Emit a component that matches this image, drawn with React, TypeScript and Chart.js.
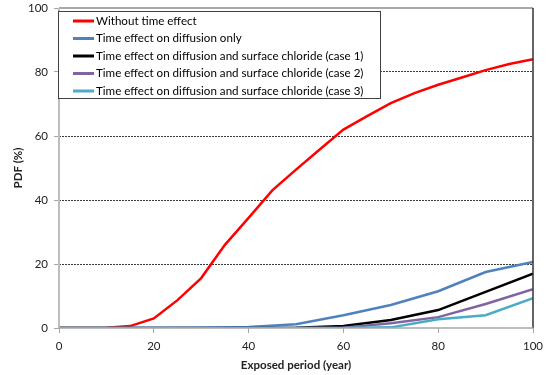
import React, { useEffect, useRef } from "react";
import { Chart, registerables } from "chart.js";

Chart.register(...registerables);

const seriesNames = [
  "Without time effect",
  "Time effect on diffusion only",
  "Time effect on diffusion and surface chloride (case 1)",
  "Time effect on diffusion and surface chloride (case 2)",
  "Time effect on diffusion and surface chloride (case 3)",
];
const seriesColors = ["#ff0000", "#4f81bd", "#000000", "#8064a2", "#4bacc6"];

const yearsFine = [0, 5, 10, 15, 20, 25, 30, 35, 40, 45, 50, 55, 60, 65, 70, 75, 80, 85, 90, 95, 100];
const yearsCoarse = [0, 10, 20, 30, 40, 50, 60, 70, 80, 90, 100];

const withoutTime = [0, 0, 0.1, 0.6, 3, 8.7, 15.6, 26, 34.4, 43, 49.5, 55.8, 62, 66.2, 70.3, 73.4, 76, 78.3, 80.6, 82.5, 84];
const diffusionOnly = [0, 0, 0, 0.05, 0.3, 1.2, 4, 7.2, 11.5, 17.5, 20.6];
const case1 = [0, 0, 0, 0, 0, 0.1, 0.6, 2.5, 5.6, 11.3, 17];
const case2 = [0, 0, 0, 0, 0, 0, 0.1, 1.5, 3.4, 7.5, 12.1];
const case3 = [0, 0, 0, 0, 0, 0, 0, 0.2, 2.7, 4, 9.3];

const yTicks = [0, 20, 40, 60, 80, 100];
const xTicks = [0, 20, 40, 60, 80, 100];

const FONT = "Lato, 'Liberation Sans', sans-serif";

const toPts = (xs: number[], ys: number[]) => xs.map((x, i) => ({ x, y: ys[i] }));

const framePlugin = {
  id: "frame",
  afterDatasetsDraw(chart: any) {
    const { ctx, chartArea: a } = chart;
    ctx.save();
    ctx.strokeStyle = "#8c8c8c";
    ctx.lineWidth = 1.5;
    ctx.beginPath();
    ctx.moveTo(a.left, a.top);
    ctx.lineTo(a.right, a.top);
    ctx.stroke();
    ctx.strokeStyle = "#333333";
    ctx.lineWidth = 1.5;
    ctx.beginPath();
    ctx.moveTo(a.right, a.top);
    ctx.lineTo(a.right, a.bottom);
    ctx.stroke();
    ctx.strokeStyle = "#bdbdbd";
    ctx.lineWidth = 2;
    ctx.beginPath();
    ctx.moveTo(a.left, a.top);
    ctx.lineTo(a.left, a.bottom);
    ctx.stroke();
    ctx.strokeStyle = "#a6a6a6";
    ctx.lineWidth = 1.5;
    ctx.beginPath();
    ctx.moveTo(a.left, a.bottom);
    ctx.lineTo(a.right, a.bottom);
    ctx.stroke();
    ctx.restore();
  },
};

const legendPlugin = {
  id: "insideLegend",
  afterDraw(chart: any) {
    const { ctx, chartArea: a } = chart;
    const left = a.left - 1;
    const top = a.top + 3;
    const w = 322;
    const rowH = 17.5;
    const h = 87;
    ctx.save();
    ctx.fillStyle = "#ffffff";
    ctx.fillRect(left, top, w, h);
    ctx.strokeStyle = "#404040";
    ctx.lineWidth = 1;
    ctx.strokeRect(left + 0.5, top + 0.5, w, h);
    ctx.font = "11.6px " + FONT;
    ctx.textBaseline = "middle";
    ctx.textAlign = "left";
    seriesNames.forEach((name, i) => {
      const cy = top + 10 + i * rowH;
      ctx.strokeStyle = seriesColors[i];
      ctx.lineWidth = 3;
      ctx.beginPath();
      ctx.moveTo(left + 15, cy);
      ctx.lineTo(left + 36, cy);
      ctx.stroke();
      ctx.fillStyle = "#000000";
      ctx.fillText(name, left + 38, cy);
    });
    ctx.restore();
  },
};

export default function App() {
  const ref = useRef<HTMLCanvasElement | null>(null);
  useEffect(() => {
    if (!ref.current) return;
    const allData = [
      toPts(yearsFine, withoutTime),
      toPts(yearsCoarse, diffusionOnly),
      toPts(yearsCoarse, case1),
      toPts(yearsCoarse, case2),
      toPts(yearsCoarse, case3),
    ];
    const chart = new Chart(ref.current, {
      type: "line",
      data: {
        datasets: allData.map((d, i) => ({
          label: seriesNames[i],
          data: d,
          borderColor: seriesColors[i],
          backgroundColor: seriesColors[i],
          borderWidth: 2.5,
          pointRadius: 0,
          tension: 0,
          fill: false,
          order: 4 - i,
        })),
      },
      options: {
        responsive: false,
        animation: false,
        layout: { padding: { left: 0, top: 8, right: 15, bottom: 0 } },
        plugins: { legend: { display: false }, tooltip: { enabled: false } },
        scales: {
          x: {
            type: "linear",
            min: 0,
            max: 100,
            afterBuildTicks: (s: any) => {
              s.ticks = xTicks.map((v) => ({ value: v }));
            },
            afterFit: (s: any) => {
              s.height = 47;
              s.paddingLeft = 0;
              s.paddingRight = 0;
            },
            grid: { drawOnChartArea: false, tickLength: 5, tickColor: "#a6a6a6", tickWidth: 1 },
            border: { display: false },
            ticks: { color: "#222", font: { family: FONT, size: 11.5 }, padding: 6, maxRotation: 0 },
            title: {
              display: true,
              text: "Exposed period (year)",
              color: "#222",
              font: { family: FONT, size: 11.5, weight: "bold" },
              padding: { top: 2, bottom: 3 },
            },
          },
          y: {
            type: "linear",
            min: 0,
            max: 100,
            afterBuildTicks: (s: any) => {
              s.ticks = yTicks.map((v) => ({ value: v }));
            },
            afterFit: (s: any) => {
              s.width = 59;
              s.paddingTop = 0;
              s.paddingBottom = 0;
            },
            grid: {
              color: (c: any) => (c.tick && (c.tick.value === 0 || c.tick.value === 100) ? "rgba(0,0,0,0)" : "#3a3a3a"),
              lineWidth: 1,
              tickLength: 5,
              tickColor: "#a6a6a6",
              tickWidth: 1,
              tickBorderDash: [],
            },
            border: { display: false, dash: [2, 1] },
            ticks: { color: "#222", font: { family: FONT, size: 11.5 }, padding: 6 },
            title: {
              display: true,
              text: "PDF (%)",
              color: "#222",
              font: { family: FONT, size: 11.5, weight: "bold" },
              padding: { top: 11, bottom: 4 },
            },
          },
        },
      },
      plugins: [framePlugin, legendPlugin],
    });
    return () => chart.destroy();
  }, []);
  return (
    <div style={{ position: "absolute", left: 0, top: 0, width: 548, height: 375, background: "#fff" }}>
      <canvas ref={ref} width={548} height={375} />
    </div>
  );
}
